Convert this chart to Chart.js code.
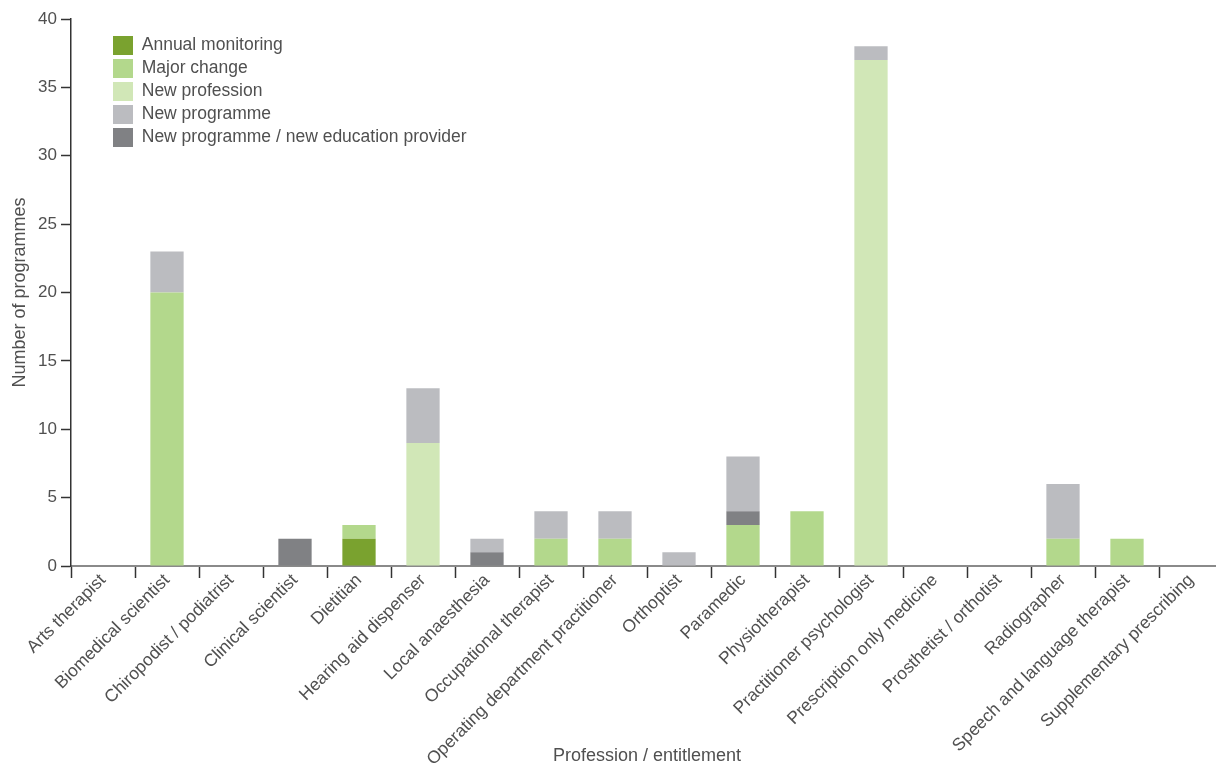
<!DOCTYPE html>
<html>
<head>
<meta charset="utf-8">
<script src="https://cdn.jsdelivr.net/npm/chart.js@4"></script>
<style>
  html, body { margin: 0; padding: 0; background: #fff; overflow: hidden; }
  #wrap { position: relative; width: 1223px; height: 767px; }
</style>
</head>
<body>
<div id="wrap"><canvas id="myChart"></canvas></div>
<script>
// categories along the x axis
const professions = [
  "Arts therapist", "Biomedical scientist", "Chiropodist / podiatrist",
  "Clinical scientist", "Dietitian", "Hearing aid dispenser",
  "Local anaesthesia", "Occupational therapist",
  "Operating department practitioner", "Orthoptist", "Paramedic",
  "Physiotherapist", "Practitioner psychologist",
  "Prescription only medicine", "Prosthetist / orthotist", "Radiographer",
  "Speech and language therapist", "Supplementary prescribing"
];

// series values (number of programmes)
const annualMonitoring = [0, 0, 0, 0, 2, 0, 0, 0, 0, 0, 0, 0, 0, 0, 0, 0, 0, 0];
const majorChange      = [0, 20, 0, 0, 1, 0, 0, 2, 2, 0, 3, 4, 0, 0, 0, 2, 2, 0];
const newProfession    = [0, 0, 0, 0, 0, 9, 0, 0, 0, 0, 0, 0, 37, 0, 0, 0, 0, 0];
const newProgramme     = [0, 3, 0, 0, 0, 4, 1, 2, 2, 1, 4, 0, 1, 0, 0, 4, 0, 0];
const newProvider      = [0, 0, 0, 2, 0, 0, 1, 0, 0, 0, 1, 0, 0, 0, 0, 0, 0, 0];

// order shown in the key
const legendOrder = [
  "Annual monitoring", "Major change", "New profession", "New programme",
  "New programme / new education provider"
];

const textColor = "#505050";
const fontFamily = "'Liberation Sans', Arial, sans-serif";

// put the key inside the plot, a bit right of the y axis
const legendPlace = {
  id: "legendPlace",
  beforeDraw(chart) {
    const lg = chart.legend;
    if (!lg) return;
    lg.left = chart.chartArea.left + 38;
    lg.top = chart.chartArea.top + 13;
  }
};

const ctx = document.getElementById("myChart").getContext("2d");
const myChart = new Chart(ctx, {
  type: "bar",
  data: {
    labels: professions,
    datasets: [
      { label: "Annual monitoring", data: annualMonitoring, backgroundColor: "#7aa22f" },
      { label: "Major change", data: majorChange, backgroundColor: "#b3d88c" },
      { label: "New profession", data: newProfession, backgroundColor: "#d1e7b7" },
      { label: "New programme / new education provider", data: newProvider, backgroundColor: "#808184" },
      { label: "New programme", data: newProgramme, backgroundColor: "#bbbcc0" }
    ]
  },
  options: {
    responsive: true,
    maintainAspectRatio: false,
    animation: false,
    datasets: {
      bar: { barPercentage: 0.52, categoryPercentage: 1 }
    },
    layout: { padding: { top: 19, right: 0, bottom: 0, left: 0 } },
    plugins: {
      tooltip: { enabled: false },
      legend: {
        position: "chartArea",
        align: "start",
        labels: {
          boxWidth: 20,
          boxHeight: 19,
          padding: 4,
          color: textColor,
          font: { family: fontFamily, size: 17.5 },
          sort: (a, b) => legendOrder.indexOf(a.text) - legendOrder.indexOf(b.text)
        }
      }
    },
    scales: {
      x: {
        stacked: true,
        grid: {
          display: true,
          drawOnChartArea: false,
          drawTicks: true,
          tickLength: 12,
          tickColor: "#333",
          tickWidth: 1.5,
          offset: true
        },
        border: { display: true, color: "#8a8a8a", width: 2 },
        ticks: {
          autoSkip: false,
          maxRotation: 45,
          minRotation: 45,
          padding: -8,
          color: textColor,
          font: { family: fontFamily, size: 17.5 }
        },
        title: {
          display: true,
          text: "Profession / entitlement",
          color: textColor,
          font: { family: fontFamily, size: 18 },
          padding: { top: 0, bottom: 0 }
        },
        afterFit: (scale) => { scale.height = 201; }
      },
      y: {
        stacked: true,
        min: 0,
        max: 40,
        ticks: {
          stepSize: 5,
          padding: 4,
          color: textColor,
          font: { family: fontFamily, size: 17 }
        },
        grid: {
          display: true,
          drawOnChartArea: false,
          drawTicks: true,
          tickLength: 10,
          tickColor: "#333",
          tickWidth: 1.5
        },
        border: { display: true, color: "#333", width: 1.5 },
        title: {
          display: true,
          text: "Number of programmes",
          color: textColor,
          font: { family: fontFamily, size: 18 },
          padding: { top: 9, bottom: 0 }
        },
        afterFit: (scale) => { scale.width = 71; }
      }
    }
  },
  plugins: [legendPlace]
});
</script>
</body>
</html>
